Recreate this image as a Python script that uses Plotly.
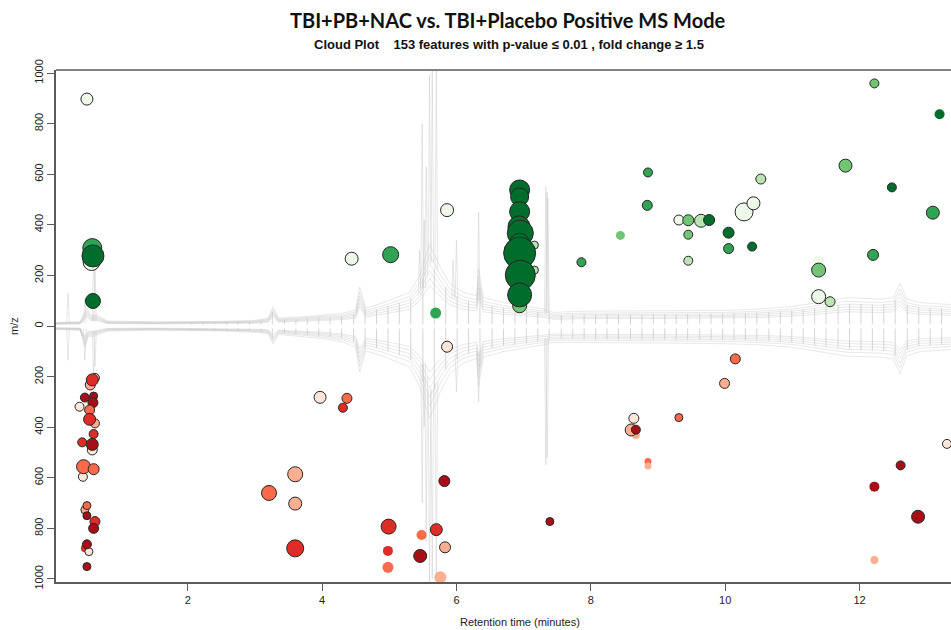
import numpy as np
import plotly.graph_objects as go

TITLE = "TBI+PB+NAC vs. TBI+Placebo Positive MS Mode"
SUBTITLE = "Cloud Plot\u00a0\u00a0\u00a0\u00a0153 features with p-value \u2264 0.01 , fold change \u2265 1.5"
X_TITLE = "Retention time (minutes)"
Y_TITLE = "m/z"

x_ticks = [2, 4, 6, 8, 10, 12]
y_ticks = [-1000, -800, -600, -400, -200, 0, 200, 400, 600, 800, 1000]
y_ticktext = ["1000", "800", "600", "400", "200", "0", "200", "400", "600", "800", "1000"]

# ---- features up-regulated (drawn above zero), listed in drawing order ----
up_rt = [0.50, 0.57, 0.58, 0.59, 0.59, 4.44, 5.02, 5.69, 5.86,
         7.16, 7.16, 6.94,
         6.94, 6.94, 6.94, 6.93, 6.95, 6.94, 6.94, 6.95, 6.94,
         7.86, 8.44, 8.85, 8.84, 9.31, 9.45, 9.64, 9.76, 9.45, 9.45, 10.05, 10.05,
         10.40, 10.28, 10.42, 10.53, 11.79, 12.22, 13.19, 12.48, 13.09, 12.20,
         11.39, 11.39, 11.39, 11.56]
up_mz = [897, 253, 308, 277, 99, 266, 282, 51, 458,
         320, 221, 80,
         538, 510, 452, 392, 367, 327, 288, 201, 123,
         252, 358, 607, 477, 419, 418, 416, 419, 361, 258, 369, 306,
         314, 451, 485, 581, 634, 959, 837, 548, 448, 281,
         254, 221, 116, 96]
up_pbin = [0, 0, 3, 4, 4, 0, 3, 3, 0,
           1, 1, 2,
           4, 4, 4, 4, 4, 4, 4, 4, 4,
           3, 2, 3, 3, 0, 2, 1, 4, 2, 1, 4, 3,
           4, 0, 0, 1, 2, 2, 4, 4, 3, 3,
           0, 2, 0, 1]
up_intensity = [12, 17, 19, 22, 15, 13, 16, 11, 13,
                8, 8, 14,
                20, 18, 20, 22, 26, 20, 32, 30, 24,
                9, 9, 9, 10, 10, 11, 13, 11, 9, 9, 11, 10,
                9, 18, 13, 10, 13, 9, 10, 9, 13, 11,
                12, 14, 14, 10]
up_dbhit = [1, 1, 1, 1, 1, 1, 1, 0, 1,
            1, 1, 1,
            1, 1, 1, 1, 1, 1, 1, 1, 1,
            1, 0, 1, 1, 1, 1, 1, 1, 1, 1, 1, 1,
            1, 1, 1, 1, 1, 1, 0, 1, 1, 1,
            0, 1, 1, 1]

# ---- features down-regulated (drawn below zero), listed in drawing order ----
dn_rt = [0.62, 0.55, 0.58, 0.47, 0.60, 0.59, 0.39, 0.54, 0.62, 0.54, 0.60, 0.43, 0.58,
         0.58, 0.44, 0.45, 0.60, 0.47, 0.50, 0.50, 0.62, 0.60, 0.47, 0.53, 0.50, 0.50,
         5.86, 3.97, 4.37, 4.31, 3.60, 3.21, 3.60, 3.60, 5.82, 4.99, 4.98, 4.98, 5.48,
         5.46, 5.70, 5.83, 5.76, 7.39,
         10.15, 9.99, 9.31, 8.64, 8.67, 8.60, 8.67, 8.85, 8.85, 13.30, 12.61, 12.22,
         12.87, 12.22]
dn_mz = [205, 233, 213, 283, 277, 303, 319, 332, 385, 369, 427, 460, 490,
         468, 596, 556, 566, 727, 710, 750, 773, 800, 879, 892, 863, 951,
         82, 282, 286, 323, 586, 660, 702, 879, 613, 793, 889, 954, 826,
         909, 805, 875, 993, 773,
         130, 227, 362, 365, 431, 411, 410, 536, 553, 466, 551, 635,
         754, 925]
dn_pbin = [1, 1, 3, 4, 4, 4, 0, 2, 1, 3, 3, 3, 0,
           4, 0, 2, 2, 1, 2, 4, 3, 4, 3, 0, 4, 4,
           0, 0, 2, 3, 1, 2, 1, 3, 4, 3, 3, 2, 2,
           4, 3, 1, 1, 4,
           2, 1, 2, 0, 1, 1, 4, 2, 1, 0, 4, 4,
           4, 1]
dn_intensity = [9, 10, 12, 9, 8, 10, 9, 10, 9, 12, 9, 9, 10,
                12, 9, 14, 11, 8, 8, 8, 10, 10, 8, 8, 9, 8,
                11, 12, 10, 9, 15, 15, 13, 17, 11, 15, 10, 11, 10,
                13, 12, 11, 12, 8,
                10, 10, 8, 10, 8, 12, 9, 7, 7, 9, 9, 10,
                13, 8]
dn_dbhit = [1, 1, 1, 1, 1, 1, 1, 1, 1, 1, 1, 1, 1,
            1, 1, 1, 1, 1, 1, 1, 1, 1, 0, 1, 1, 1,
            1, 1, 1, 1, 1, 1, 1, 1, 1, 1, 0, 0, 0,
            1, 1, 1, 0, 1,
            1, 1, 1, 1, 0, 1, 1, 0, 0, 1, 1, 0,
            1, 0]

# ---- total ion chromatograms (scaled to the m/z axis) ----
tic_up_rt = [0.04, 0.20, 0.40, 0.50, 0.56, 0.66, 0.80, 1.5, 2.5, 3.0, 3.2, 3.27, 3.35, 3.6,
             4.0, 4.3, 4.5, 4.56, 4.65, 4.9, 5.1, 5.3, 5.45, 5.6, 5.75, 5.9, 6.1, 6.3,
             6.33, 6.4, 6.7, 7.0, 7.2, 7.3, 7.45, 7.6, 8.0, 9.0, 10.0, 10.5, 11.0, 11.5,
             11.8, 12.3, 12.5, 12.6, 12.7, 12.9, 13.4]
tic_up = [10, 10, 12, 50, 30, 30, 14, 12, 13, 16, 22, 55, 22, 25,
          30, 36, 45, 110, 50, 65, 80, 95, 140, 230, 170, 120, 95, 85,
          160, 80, 66, 58, 52, 48, 38, 40, 42, 42, 44, 48, 55, 70,
          80, 76, 80, 120, 76, 66, 60]
tic_lo_rt = [0.04, 0.20, 0.40, 0.47, 0.52, 0.58, 0.66, 0.80, 1.5, 2.5, 3.0, 3.2, 3.27, 3.35,
             3.6, 4.0, 4.3, 4.5, 4.56, 4.65, 4.9, 5.1, 5.3, 5.45, 5.6, 5.75, 5.9, 6.1,
             6.3, 6.33, 6.4, 6.7, 7.0, 7.2, 7.3, 7.45, 7.6, 8.0, 9.0, 10.0, 10.5, 11.0,
             11.5, 11.8, 12.3, 12.5, 12.6, 12.7, 12.9, 13.4]
tic_lo = [10, 10, 12, 60, 30, 30, 25, 14, 12, 14, 18, 22, 50, 24,
          28, 35, 45, 60, 130, 70, 85, 100, 115, 170, 260, 190, 135, 105,
          92, 170, 88, 72, 63, 56, 53, 46, 46, 48, 48, 50, 53, 60,
          75, 85, 88, 92, 135, 85, 72, 66]
replicate_scale = [0.7, 0.82, 0.95, 1.08, 1.22, 1.4]

# sharp peaks: (retention time, apex, foot)
spikes_up = [(0.22, 130, 10), (0.47, 110, 12), (0.60, 330, 20), (0.62, 240, 20),
             (5.45, 300, 120), (5.49, 800, 150), (5.52, 420, 150), (5.55, 630, 200),
             (5.60, 990, 250), (5.64, 1015, 250), (5.70, 1015, 220), (5.95, 260, 110),
             (6.00, 340, 110), (6.33, 450, 100), (7.33, 550, 50), (7.35, 530, 50),
             (7.36, 505, 50)]
spikes_lo = [(0.22, 135, 10), (0.47, 135, 12), (0.60, 200, 20), (0.62, 160, 20),
             (5.49, 700, 150), (5.52, 400, 150), (5.55, 850, 200), (5.60, 1015, 250),
             (5.64, 1000, 250), (5.70, 1015, 220), (6.00, 260, 110), (6.33, 300, 100),
             (7.33, 550, 50), (7.35, 520, 50)]

# scan-gap drop-outs of the chromatograms
gap_rt = [2.06, 2.23, 2.40, 2.58, 2.75, 2.92, 3.09, 3.26, 3.44, 3.61, 3.78, 3.95, 4.12,
          4.29, 4.47, 4.64, 4.81, 4.98, 5.15, 5.32, 5.50, 5.67, 5.84, 6.01, 6.18, 6.35,
          6.53, 6.70, 6.87, 7.04, 7.21, 7.38, 7.56, 7.73, 7.90, 8.07, 8.24, 8.41, 8.59,
          8.76, 8.93, 9.10, 9.27, 9.44, 9.62, 9.79, 9.96, 10.13, 10.30, 10.47, 10.65,
          10.82, 10.99, 11.16, 11.33, 11.50, 11.68, 11.85, 12.02, 12.19, 12.36, 12.53,
          12.71, 12.88, 13.05, 13.22]

GREENS = ['#edf8e9', '#bae4b3', '#74c476', '#31a354', '#006d2c']
REDS = ['#fee5d9', '#fcae91', '#fb6a4a', '#de2d26', '#a50f15']
SIZE_SCALE = 1.0
TIC_COLOR = 'rgba(185,185,185,0.33)'
FONT = "Liberation Sans Narrow, Arial Narrow, Liberation Sans, sans-serif"

fig = go.Figure()

# chromatogram envelopes
for f in replicate_scale:
    fig.add_trace(go.Scatter(x=tic_up_rt, y=[v * f for v in tic_up], mode='lines',
                             line=dict(color=TIC_COLOR, width=1), hoverinfo='skip', showlegend=False))
    fig.add_trace(go.Scatter(x=tic_lo_rt, y=[-v * f for v in tic_lo], mode='lines',
                             line=dict(color=TIC_COLOR, width=1), hoverinfo='skip', showlegend=False))

# sharp peaks
def spike_xy(spikes, sign):
    xs, ys = [], []
    for t, h, b in spikes:
        xs += [t - 0.02, t, t + 0.02, None]
        ys += [sign * b, sign * h, sign * b, None]
    return xs, ys

for sp, sg in ((spikes_up, 1), (spikes_lo, -1)):
    sx, sy = spike_xy(sp, sg)
    fig.add_trace(go.Scatter(x=sx, y=sy, mode='lines', line=dict(color='rgba(200,200,200,0.45)', width=1),
                             hoverinfo='skip', showlegend=False))

# drop-outs
top_up = np.interp(gap_rt, tic_up_rt, tic_up) * 1.1
top_lo = np.interp(gap_rt, tic_lo_rt, tic_lo) * 1.1
gx, gy = [], []
for t, a, b in zip(gap_rt, top_up, top_lo):
    gx += [t, t, None, t, t, None]
    gy += [6, a, None, -10, -b, None]
fig.add_trace(go.Scatter(x=gx, y=gy, mode='lines', line=dict(color='rgba(195,195,195,0.7)', width=1),
                         hoverinfo='skip', showlegend=False))

# features
def add_features(rt, mz, pbin, inten, hit, palette, sign):
    fig.add_trace(go.Scatter(
        x=rt,
        y=[sign * m for m in mz],
        mode='markers', showlegend=False,
        marker=dict(size=[v * SIZE_SCALE for v in inten],
                    color=[palette[p] for p in pbin],
                    opacity=1,
                    line=dict(color='#262626', width=[1.0 if h else 0 for h in hit]))))

add_features(up_rt, up_mz, up_pbin, up_intensity, up_dbhit, GREENS, 1)
add_features(dn_rt, dn_mz, dn_pbin, dn_intensity, dn_dbhit, REDS, -1)

AX = '#5a5a5a'
fig.update_layout(
    width=951, height=630,
    margin=dict(l=56, r=0, t=70, b=48),
    plot_bgcolor='white', paper_bgcolor='white',
    showlegend=False,
    xaxis=dict(range=[0.04, 13.36], tickvals=x_ticks, ticks='outside', ticklen=7, tickwidth=1,
               tickcolor=AX, showline=True, linecolor=AX, linewidth=1.5, showgrid=False,
               zeroline=False, tickfont=dict(family=FONT, size=11, color='#222')),
    yaxis=dict(range=[-1012, 1012], tickvals=y_ticks, ticktext=y_ticktext, tickangle=-90,
               ticks='outside', ticklen=7, tickwidth=1, tickcolor=AX, showline=True,
               linecolor=AX, linewidth=1.5, showgrid=False, zeroline=False,
               tickfont=dict(family=FONT, size=11, color='#222')),
    shapes=[dict(type='line', xref='paper', yref='paper', x0=0, x1=1, y0=1, y1=1,
                 line=dict(color=AX, width=1.5))],
    annotations=[
        dict(text="<b>" + TITLE + "</b>", xref='paper', yref='paper', x=0.505, y=1.098, showarrow=False,
             xanchor='center', yanchor='middle', font=dict(family='Lato, sans-serif', size=20, color='#111')),
        dict(text="<b>" + SUBTITLE + "</b>", xref='paper', yref='paper', x=0.506, y=1.049, showarrow=False,
             xanchor='center', yanchor='middle', font=dict(family=FONT, size=13, color='#111')),
        dict(text=X_TITLE, xref='paper', yref='paper', x=0.518, y=-0.078, showarrow=False,
             xanchor='center', yanchor='middle', font=dict(family=FONT, size=11, color='#222')),
        dict(text=Y_TITLE, xref='paper', yref='paper', x=-0.047, y=0.5, showarrow=False, textangle=-90,
             xanchor='center', yanchor='middle', font=dict(family=FONT, size=11, color='#222')),
    ],
)

fig.write_html("out.html")
